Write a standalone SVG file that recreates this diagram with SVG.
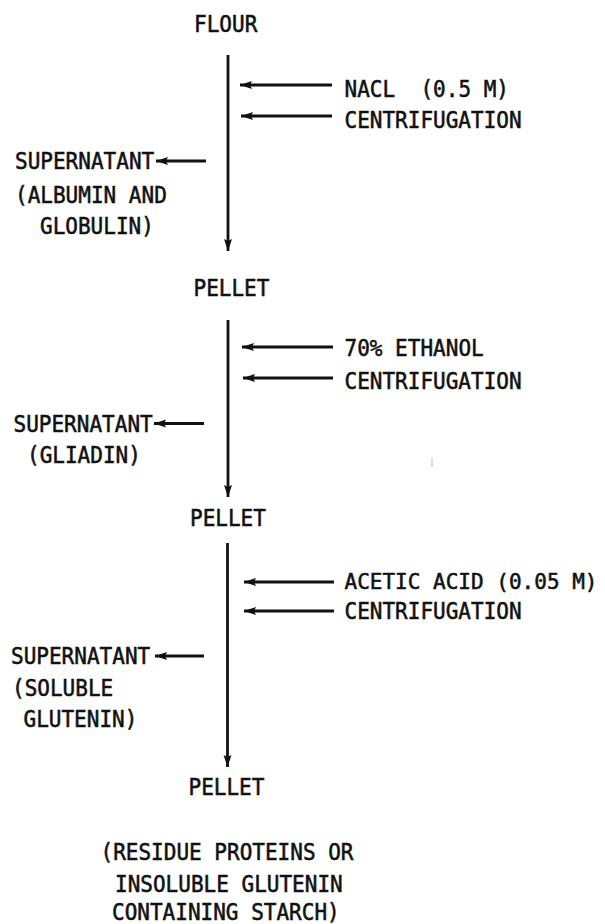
<svg xmlns="http://www.w3.org/2000/svg" width="605" height="924" viewBox="0 0 605 924">
<style>
text{font-family:"DejaVu Sans Mono","Liberation Mono",monospace;font-size:22.5px;fill:#111;stroke:#111;stroke-width:0.55px}
.c{stroke:#111;stroke-width:2.8;fill:none}
</style>
<defs>
<marker id="ah" markerUnits="userSpaceOnUse" markerWidth="14" markerHeight="10" refX="12" refY="5" orient="auto">
<path d="M0,1 L12,5 L0,9 L2,5 Z" fill="#111"/>
</marker>
</defs>
<rect width="605" height="924" fill="#fff"/>
<g id="connectors">
<line class="c" x1="228" y1="55" x2="228" y2="251" marker-end="url(#ah)"/>
<line class="c" x1="332" y1="85" x2="240" y2="85" marker-end="url(#ah)"/>
<line class="c" x1="332" y1="116" x2="241" y2="116" marker-end="url(#ah)"/>
<line class="c" x1="206" y1="161" x2="156" y2="161" marker-end="url(#ah)"/>
<line class="c" x1="228" y1="320" x2="228" y2="497" marker-end="url(#ah)"/>
<line class="c" x1="333" y1="347" x2="242" y2="347" marker-end="url(#ah)"/>
<line class="c" x1="333" y1="378" x2="243" y2="378" marker-end="url(#ah)"/>
<line class="c" x1="204" y1="423.5" x2="154" y2="423.5" marker-end="url(#ah)"/>
<line class="c" x1="227.5" y1="543" x2="227.5" y2="767" marker-end="url(#ah)"/>
<line class="c" x1="334" y1="582" x2="244" y2="582" marker-end="url(#ah)"/>
<line class="c" x1="334" y1="611" x2="244" y2="611" marker-end="url(#ah)"/>
<line class="c" x1="204" y1="656" x2="155" y2="656" marker-end="url(#ah)"/>
</g>
<g id="flour"><text x="194" y="32" textLength="63.3" lengthAdjust="spacingAndGlyphs">FLOUR</text></g>
<g id="step1"><text x="344.5" y="96.5" xml:space="preserve" textLength="164.5" lengthAdjust="spacingAndGlyphs">NACL  (0.5 M)</text><text x="344.5" y="128" textLength="177.1" lengthAdjust="spacingAndGlyphs">CENTRIFUGATION</text></g>
<g id="supernatant1"><text x="15" y="169" textLength="139.2" lengthAdjust="spacingAndGlyphs">SUPERNATANT</text><text x="15" y="203" textLength="151.8" lengthAdjust="spacingAndGlyphs">(ALBUMIN AND</text><text x="40" y="234" textLength="113.9" lengthAdjust="spacingAndGlyphs">GLOBULIN)</text></g>
<g id="pellet1"><text x="193.5" y="296" textLength="75.9" lengthAdjust="spacingAndGlyphs">PELLET</text></g>
<g id="step2"><text x="344.5" y="355.5" textLength="139.2" lengthAdjust="spacingAndGlyphs">70% ETHANOL</text><text x="344.5" y="389" textLength="177.1" lengthAdjust="spacingAndGlyphs">CENTRIFUGATION</text></g>
<g id="supernatant2"><text x="13.5" y="431.5" textLength="139.2" lengthAdjust="spacingAndGlyphs">SUPERNATANT</text><text x="27" y="463" textLength="113.9" lengthAdjust="spacingAndGlyphs">(GLIADIN)</text></g>
<g id="pellet2"><text x="190" y="526" textLength="75.9" lengthAdjust="spacingAndGlyphs">PELLET</text></g>
<g id="step3"><text x="344.5" y="589" style="font-size:21.3px" textLength="253" lengthAdjust="spacingAndGlyphs">ACETIC ACID (0.05 M)</text><text x="344.5" y="619" textLength="177.1" lengthAdjust="spacingAndGlyphs">CENTRIFUGATION</text></g>
<g id="supernatant3"><text x="11" y="664" textLength="139.2" lengthAdjust="spacingAndGlyphs">SUPERNATANT</text><text x="12" y="696" textLength="101.2" lengthAdjust="spacingAndGlyphs">(SOLUBLE</text><text x="23.5" y="727" textLength="113.9" lengthAdjust="spacingAndGlyphs">GLUTENIN)</text></g>
<g id="pellet3"><text x="188.5" y="795" textLength="75.9" lengthAdjust="spacingAndGlyphs">PELLET</text></g>
<g id="residue"><text x="100.5" y="860" textLength="253" lengthAdjust="spacingAndGlyphs">(RESIDUE PROTEINS OR</text><text x="115" y="891.5" textLength="227.7" lengthAdjust="spacingAndGlyphs">INSOLUBLE GLUTENIN</text><text x="112" y="920" textLength="227.7" lengthAdjust="spacingAndGlyphs">CONTAINING STARCH)</text></g>
<line x1="432" y1="458" x2="432" y2="467" stroke="#bbb" stroke-width="1"/>
</svg>
